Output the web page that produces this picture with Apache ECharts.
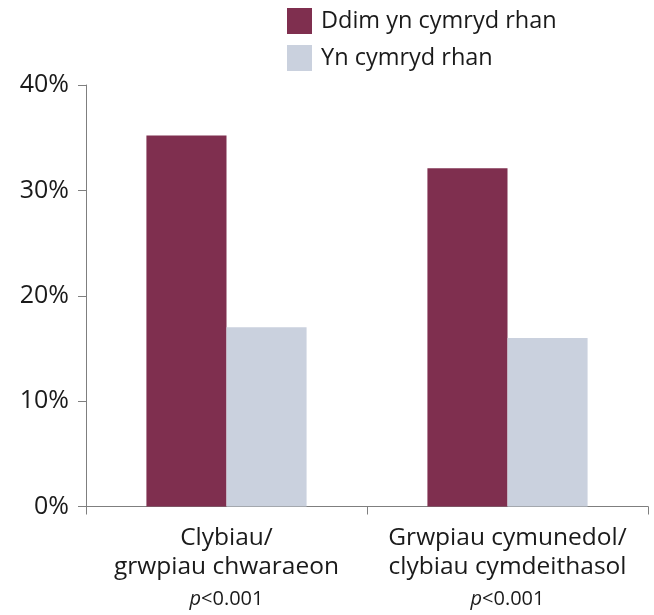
<!DOCTYPE html>
<html>
<head>
<meta charset="utf-8">
<script src="https://cdn.jsdelivr.net/npm/echarts@6/dist/echarts.min.js"></script>
<style>html,body{margin:0;padding:0;background:#fff}#c{width:654px;height:615px}</style>
</head>
<body>
<div id="c"></div>
<script>
var categories = ["Clybiau/\ngrwpiau chwaraeon", "Grwpiau cymunedol/\nclybiau cymdeithasol"];
var pValues = ["<0.001", "<0.001"];
var seriesNames = ["Ddim yn cymryd rhan", "Yn cymryd rhan"];
var notParticipating = [35.2, 32.1];
var participating = [17.0, 16.0];
var yTicks = [0, 10, 20, 30, 40];

var FONT = "Open Sans";
var TXT = '#1a1a1a';
var chart = echarts.init(document.getElementById('c'), null, {renderer: 'canvas'});
chart.setOption({
  animation: false,
  textStyle: {fontFamily: FONT},
  legend: {
    orient: 'vertical', left: 287, top: 8, padding: 0,
    itemWidth: 25, itemHeight: 26, itemGap: 11,
    icon: 'rect',
    textStyle: {fontSize: 23.5, color: TXT, fontFamily: FONT, padding: [2,0,0,4]},
    data: seriesNames
  },
  grid: {left: 86, right: 6, top: 85, bottom: 108.5, containLabel: false},
  xAxis: {
    type: 'category',
    data: categories.map(function(c, i){ return c + '\n' + pValues[i]; }),
    axisLine: {lineStyle: {color: '#7f7f7f', width: 1}},
    axisTick: {show: true, length: 8, lineStyle: {color: '#7f7f7f'}},
    axisLabel: {
      margin: 17, color: TXT, fontFamily: FONT, interval: 0,
      formatter: function(v){
        var parts = v.split('\n');
        var p = parts.pop();
        return parts.map(function(s){ return '{a|' + s + '}'; }).join('\n') + '\n{p|p}{q|' + p + '}';
      },
      rich: {
        a: {fontSize: 24.5, color: TXT, fontFamily: FONT, lineHeight: 29},
        p: {fontStyle: 'italic', fontSize: 20, color: TXT, fontFamily: FONT, lineHeight: 35},
        q: {fontSize: 20, color: TXT, fontFamily: FONT, lineHeight: 35}
      }
    }
  },
  yAxis: {
    type: 'value', min: yTicks[0], max: yTicks[yTicks.length-1], interval: 10,
    axisLine: {show: true, lineStyle: {color: '#7f7f7f', width: 1}},
    axisTick: {show: true, length: 8, lineStyle: {color: '#7f7f7f'}},
    splitLine: {show: false},
    axisLabel: {margin: 17, color: TXT, fontSize: 25, fontFamily: FONT, formatter: '{value}%'}
  },
  series: [
    {name: seriesNames[0], type: 'bar', data: notParticipating, barGap: '0%', barCategoryGap: '43%',
     itemStyle: {color: '#7f2f4f'}},
    {name: seriesNames[1], type: 'bar', data: participating,
     itemStyle: {color: '#cad1de'}}
  ]
});
</script>
</body>
</html>
